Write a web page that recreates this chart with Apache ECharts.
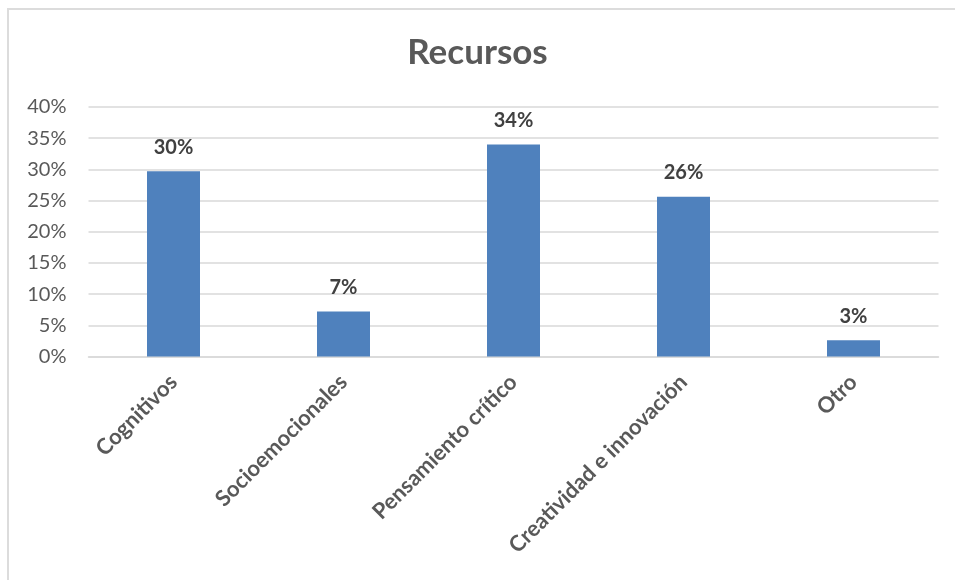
<!DOCTYPE html>
<html>
<head>
<meta charset="utf-8">
<script src="https://cdn.jsdelivr.net/npm/echarts@6/dist/echarts.min.js"></script>
<style>
  html, body { margin: 0; padding: 0; background: #ffffff; }
  #frame { position: absolute; left: 7px; top: 8px; width: 948px; height: 572px;
           border-top: 2px solid #dcdcdc; border-left: 2px solid #dcdcdc; box-sizing: border-box; }
  #chart { position: absolute; left: 0; top: 0; width: 955px; height: 580px; }
</style>
</head>
<body>
<div id="frame"></div>
<div id="chart"></div>
<script>
const titleText = "Recursos";
const categories = ["Cognitivos", "Socioemocionales", "Pensamiento crítico", "Creatividad e innovación", "Otro"];
const values = [29.7, 7.2, 34.0, 25.6, 2.6];
const yTicks = { min: 0, max: 40, interval: 5 };

const FONT = "Lato, 'Open Sans', sans-serif";
const chart = echarts.init(document.getElementById('chart'), null, { renderer: 'canvas' });
chart.setOption({
  backgroundColor: 'transparent',
  animation: false,
  title: {
    text: titleText,
    left: 'center',
    top: 30,
    textStyle: { fontFamily: FONT, fontSize: 35, fontWeight: 'bold', color: '#595959' }
  },
  grid: { left: 88.5, right: 16.5, top: 107, bottom: 223.5, containLabel: false },
  xAxis: {
    type: 'category',
    data: categories,
    axisTick: { show: false },
    axisLine: { lineStyle: { color: '#d9d9d9', width: 1.5 } },
    axisLabel: {
      rotate: 45, margin: 22, interval: 0,
      fontFamily: FONT, fontSize: 22, fontWeight: 'bold', color: '#595959'
    }
  },
  yAxis: {
    type: 'value',
    min: yTicks.min, max: yTicks.max, interval: yTicks.interval,
    axisLine: { show: false },
    axisTick: { show: false },
    splitLine: { lineStyle: { color: '#d9d9d9', width: 1.5 } },
    axisLabel: {
      margin: 22,
      fontFamily: FONT, fontSize: 20, color: '#595959',
      formatter: v => v + '%'
    }
  },
  series: [{
    type: 'bar',
    data: values,
    barWidth: 53,
    itemStyle: { color: '#4F81BD' },
    label: {
      show: true, position: 'top', distance: 14,
      fontFamily: FONT, fontSize: 20, fontWeight: 'bold', color: '#404040',
      formatter: p => Math.round(p.value) + '%'
    }
  }]
});
</script>
</body>
</html>
